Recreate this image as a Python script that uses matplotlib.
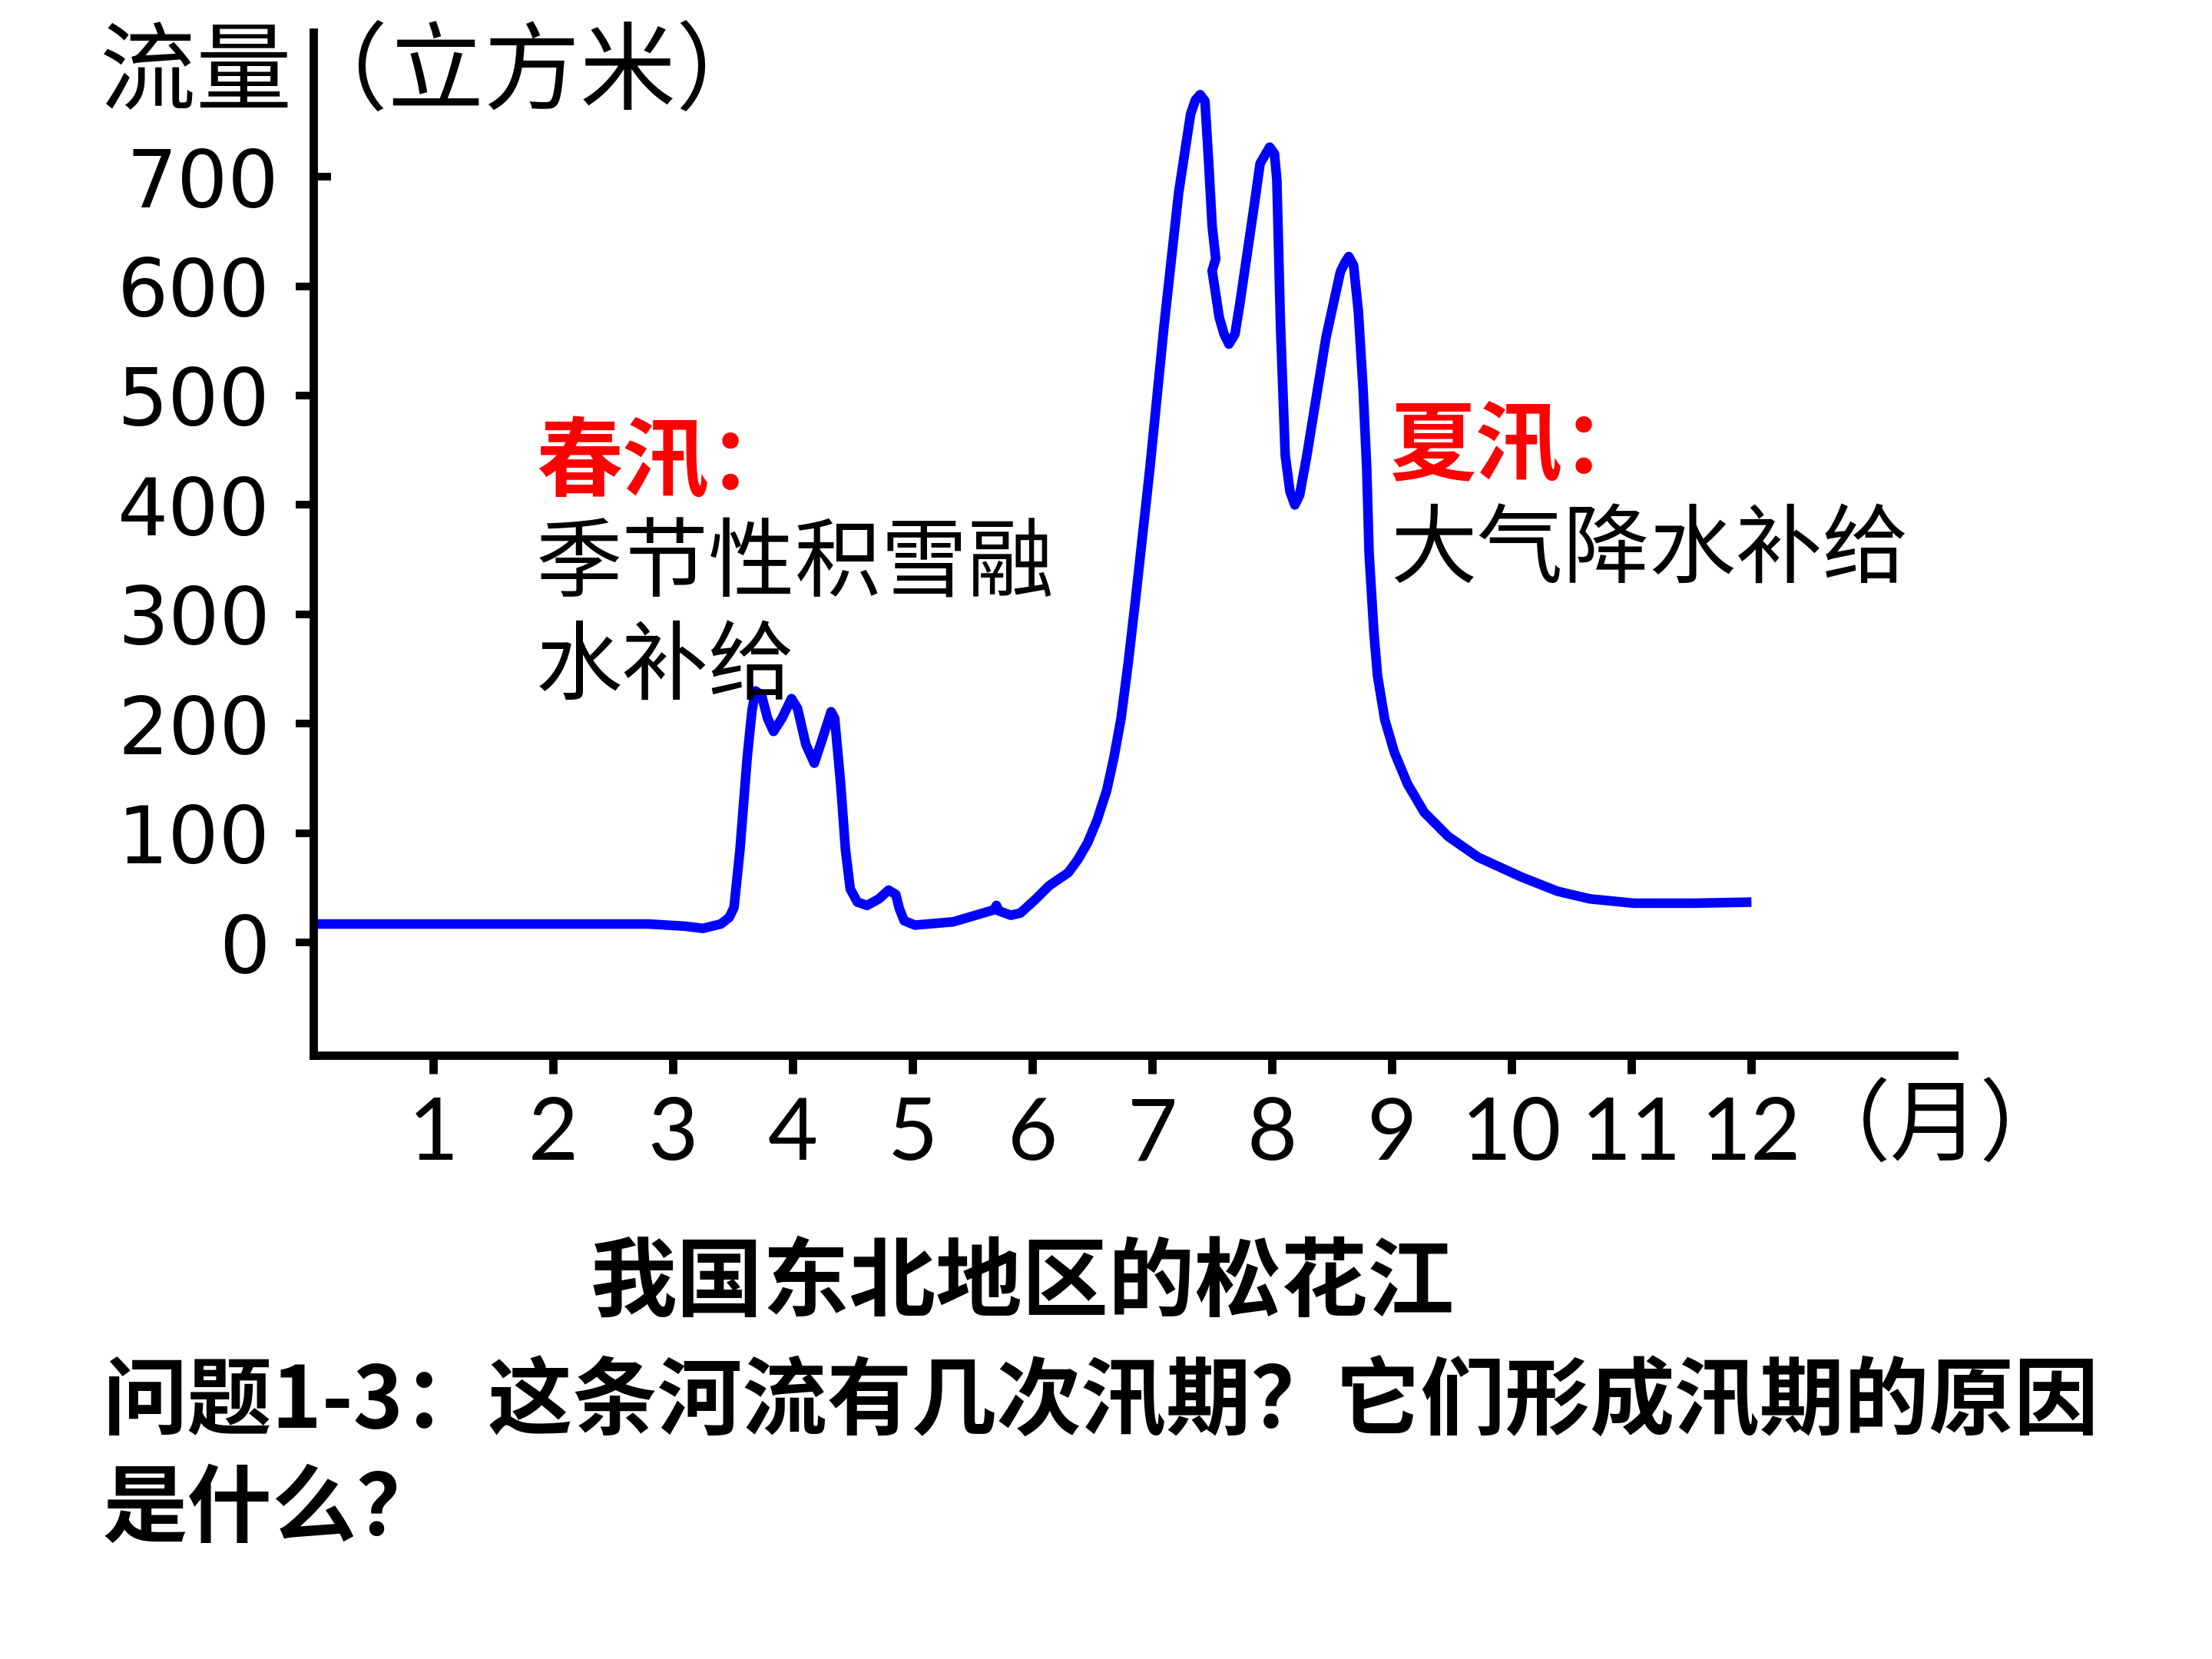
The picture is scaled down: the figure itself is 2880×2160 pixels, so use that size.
import numpy as np
import matplotlib
matplotlib.use("Agg")
import matplotlib.pyplot as plt

# discharge of the Songhua river: month vs flow
month = [0.00, 1.00, 2.00, 2.80, 3.10, 3.25, 3.40, 3.47, 3.51, 3.56, 3.62, 3.66, 3.69,
         3.74, 3.79, 3.84, 3.91, 3.99, 4.04, 4.11, 4.18, 4.25, 4.32, 4.35, 4.40, 4.44,
         4.48, 4.54, 4.62, 4.72, 4.80, 4.86, 4.89, 4.93, 5.02, 5.34, 5.68, 5.70, 5.72,
         5.82, 5.90, 6.03, 6.14, 6.30, 6.38, 6.46, 6.54, 6.62, 6.68, 6.74, 6.80, 6.86,
         6.98, 7.10, 7.22, 7.32, 7.36, 7.40, 7.44, 7.47, 7.50, 7.53, 7.50, 7.56, 7.60,
         7.64, 7.69, 7.73, 7.85, 7.90, 7.98, 8.02, 8.04, 8.07, 8.11, 8.15, 8.19, 8.23,
         8.29, 8.45, 8.57, 8.61, 8.64, 8.68, 8.72, 8.76, 8.79, 8.81, 8.85, 8.88, 8.94,
         9.02, 9.13, 9.27, 9.47, 9.72, 10.08, 10.38, 10.65, 11.02, 11.27, 11.51, 12.00]
flow = [17, 17, 17, 17, 15, 13, 17, 23, 32, 85, 169, 212, 230,
        226, 205, 193, 205, 223, 214, 181, 164, 187, 211, 205, 145, 85,
        49, 37, 34, 40, 48, 44, 31, 20, 16, 19, 30, 34, 29,
        25, 27, 40, 52, 64, 76, 91, 112, 139, 169, 205, 256, 313,
        433, 565, 685, 757, 770, 775, 769, 715, 655, 625, 614, 571, 556,
        547, 556, 583, 673, 712, 727, 721, 697, 565, 445, 412, 400, 409,
        445, 553, 613, 622, 627, 619, 577, 505, 433, 355, 283, 244, 204,
        174, 145, 119, 97, 78, 60, 47, 40, 36, 36, 36, 37]

month_ticks = list(range(1, 13))
month_labels = [str(m) for m in month_ticks]
flow_ticks = [0, 100, 200, 300, 400, 500, 600]
flow_top = [700]

ylabel = "流量（立方米）"
xunit = "（月）"
title = "我国东北地区的松花江"
spring_head, spring_text = "春汛：", ["季节性积雪融", "水补给"]
summer_head, summer_text = "夏汛：", ["大气降水补给"]
question = ["问题1-3：这条河流有几次汛期？它们形成汛期的原因", "是什么？"]

CJK = ["Noto Sans CJK SC", "DejaVu Sans"]
W, H = 2880, 2160
fig = plt.figure(figsize=(W/300, H/300), dpi=300)
ax = fig.add_axes([408/W, 1-1374/H, 2136/W, 1332/H])
ax.set_xlim(0, 13.69)
ax.set_ylim(-103, 832)

ax.plot(month, flow, color="#0000FF", lw=3.0, solid_joinstyle="round",
        solid_capstyle="butt", clip_on=False)

for s in ("top", "right"):
    ax.spines[s].set_visible(False)
for s in ("left", "bottom"):
    ax.spines[s].set_linewidth(2.6)
    ax.spines[s].set_color("black")
    ax.spines[s].set_capstyle("projecting")

ax.set_xticks(month_ticks)
ax.set_xticklabels(month_labels, family=["Lato", "DejaVu Sans"], fontsize=27)
ax.tick_params(axis="x", direction="out", length=5.8, width=2.6, pad=7)

ax.set_yticks(flow_ticks)
ax.set_yticklabels([str(v) for v in flow_ticks], family="DejaVu Sans", fontsize=25)
ax.set_yticks(flow_top, minor=True)
ax.set_yticklabels([str(v) for v in flow_top], minor=True, family="DejaVu Sans", fontsize=25)
ax.tick_params(axis="y", which="major", direction="out", length=5.5, width=2.4, pad=8)
ax.tick_params(axis="y", which="minor", direction="in", length=5.5, width=2.4, pad=10.8)

# axis captions
fig.text(130/W, 1-98/H, ylabel, family=CJK, fontsize=30, ha="left", va="center")
fig.text(2520/W, 1-1470/H, xunit, family=CJK, fontsize=28, ha="center", va="center")

# annotations
fig.text(698/W, 1-604/H, spring_head, family=CJK, fontsize=27, color="#FF0000",
         weight="bold", ha="left", va="center")
for i, line in enumerate(spring_text):
    fig.text(698/W, 1-(736+134*i)/H, line, family=CJK, fontsize=27, weight="medium",
             ha="left", va="center")
fig.text(1810/W, 1-584/H, summer_head, family=CJK, fontsize=27, color="#FF0000",
         weight="bold", ha="left", va="center")
for i, line in enumerate(summer_text):
    fig.text(1810/W, 1-(718+134*i)/H, line, family=CJK, fontsize=27, weight="medium",
             ha="left", va="center")

fig.text(1331/W, 1-1672/H, title, family=CJK, fontsize=27, weight="bold",
         ha="center", va="center")
for i, line in enumerate(question):
    fig.text(134/W, 1-(1827+140*i)/H, line, family=CJK, fontsize=26.5, weight="bold",
             ha="left", va="center")

fig.savefig("out.png", dpi=300, facecolor="white")
